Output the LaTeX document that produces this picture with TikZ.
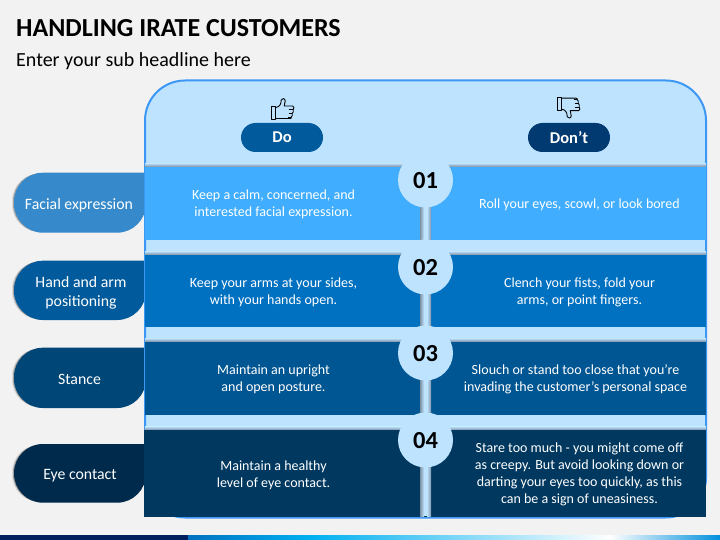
\documentclass[tikz,border=0pt]{standalone}
\usepackage{fontspec}
\setmainfont{Carlito}
\definecolor{pagebg}{HTML}{F2F2F2}
\definecolor{panelfill}{HTML}{BDE3FF}
\definecolor{panelline}{HTML}{3D97F5}
\definecolor{bandA}{HTML}{40ADFF}
\definecolor{bandB}{HTML}{0070C0}
\definecolor{bandC}{HTML}{005692}
\definecolor{bandD}{HTML}{00385F}
\definecolor{pillA}{HTML}{368ACB}
\definecolor{pillB}{HTML}{005A9B}
\definecolor{pillC}{HTML}{004676}
\definecolor{pillD}{HTML}{002A4C}
\definecolor{dontblue}{HTML}{003A70}
\definecolor{shadowgrey}{HTML}{7F92A5}
\definecolor{navy}{HTML}{001F5F}
\definecolor{stripcyan}{HTML}{00B0F0}
\definecolor{stripblue}{HTML}{0090DD}
\newcommand{\bandshape}[4]{%
  \shade[top color=panelfill,bottom color=shadowgrey] (145,#1-3.5) rectangle (706,#1);
  \fill[#3] (#4,#1) rectangle (706,#2);}
\newcommand{\pillshape}[3]{%
  \fill[black,opacity=.1] [rounded corners=27pt] (145,#1+1) -- (12,#1+1) -- (12,#2-1) -- (145,#2-1) [sharp corners] -- cycle;
  \fill[black,opacity=.25] [rounded corners=28pt] (145,#1+.5) -- (13,#1+.5) -- (13,#2-.5) -- (145,#2-.5) [sharp corners] -- cycle;
  \fill[#3] [rounded corners=29pt] (146,#1) -- (14,#1) -- (14,#2) -- (146,#2) [sharp corners] -- cycle;}
\newcommand{\barshape}[2]{%
  \fill[panelfill] ([xshift=-5.5pt]#1) rectangle ([xshift=5.5pt]#2);
  \shade[left color=shadowgrey,right color=panelfill] ([xshift=-5.5pt]#1) rectangle ([xshift=-1.5pt]#2);
  \shade[left color=panelfill,right color=shadowgrey] ([xshift=1.5pt]#1) rectangle ([xshift=5.5pt]#2);}
\tikzset{
  x=1pt,y=-1pt,
  bodytext/.style={text=white,font=\fontsize{14}{17}\selectfont,align=center,inner sep=0pt},
  sidetext/.style={text=white,font=\fontsize{15.8}{19}\selectfont,align=center,inner sep=0pt},
  numdisc/.style={circle,fill=panelfill,minimum size=55pt,inner sep=0pt},
  numtext/.style={inner sep=0pt,text=black,font=\bfseries\fontsize{24.5}{24}\selectfont},
  headpill/.style={rounded corners=14.5pt,minimum width=82pt,minimum height=29pt,inner sep=0pt,text=white,font=\bfseries\fontsize{16.5}{16}\selectfont},
  thumbline/.style={draw=black,line width=.9pt,line join=round,fill=none},
}
\begin{document}
\begin{tikzpicture}
\useasboundingbox (0,0) rectangle (720,540);
\fill[pagebg] (0,0) rectangle (720,540);
% titles
\node[anchor=base west,inner sep=0pt,font=\bfseries\fontsize{26}{26}\selectfont] (title) at (16,37) {HANDLING IRATE CUSTOMERS};
\node[anchor=base west,inner sep=0pt,font=\fontsize{20}{20}\selectfont] (subtitle) at (16,66.5) {Enter your sub headline here};
% side pills
\pillshape{172.7}{232.7}{pillA}
\pillshape{260.7}{320}{pillB}
\pillshape{347.7}{408}{pillC}
\pillshape{444}{502.7}{pillD}
% panel
\draw[panelline,fill=panelfill,line width=2pt,rounded corners=40pt] (145,80.5) rectangle (706,517.5);
% bands
\bandshape{166.7}{240}{bandA}{145}
\bandshape{254.7}{326.7}{bandB}{145}
\bandshape{341.7}{415}{bandC}{145}
\bandshape{430}{516.7}{bandD}{144}
% number centres and connecting bars
\coordinate (cA) at (425.5,180);
\coordinate (cB) at (425.5,267);
\coordinate (cC) at (425.5,353);
\coordinate (cD) at (425.5,440);
\coordinate (cEnd) at (425.5,516);
\barshape{cA}{cB}
\barshape{cB}{cC}
\barshape{cC}{cD}
\barshape{cD}{cEnd}
\node[numdisc] (nA) at (cA) {};
\node[numdisc] (nB) at (cB) {};
\node[numdisc] (nC) at (cC) {};
\node[numdisc] (nD) at (cD) {};
\node[numtext] (tA) at ([yshift=-.5pt]nA.center) {01};
\node[numtext] (tB) at ([yshift=-.5pt]nB.center) {02};
\node[numtext] (tC) at ([yshift=-.5pt]nC.center) {03};
\node[numtext] (tD) at ([yshift=-.5pt]nD.center) {04};
% head pills
\node[headpill,fill=pillB] (doPill) at (282,137.5) {Do};
\node[headpill,fill=dontblue] (dontPill) at (569,137.5) {Don’t};
% thumbs
\begin{scope}[shift={(271.7,119)}]
  \draw[thumbline] (0,-13) -- (4,-13) -- (4,0) -- (0,0) -- cycle;
  \draw[thumbline] (4,-11.5) .. controls (8,-12) and (9.5,-15) .. (9.5,-19) .. controls (10,-21) and (13.5,-21) .. (13.5,-18) -- (12.5,-13) -- (21,-13) .. controls (22.5,-13) and (22.5,-10) .. (21.5,-9.5) .. controls (22,-8) and (21.5,-6) .. (20.5,-5.5) .. controls (21,-4) and (20.5,-2.5) .. (19.5,-2) .. controls (20,-.5) and (19,-.5) .. (18,-.5) -- (4,-.5);
  \draw[thumbline,line width=.6pt] (17,-9.5) -- (21.5,-9.5) (17,-5.5) -- (20.5,-5.5) (16,-2) -- (19.5,-2);
\end{scope}
\begin{scope}[shift={(557.7,97.7)},yscale=-1]
  \draw[thumbline] (0,-13) -- (4,-13) -- (4,0) -- (0,0) -- cycle;
  \draw[thumbline] (4,-11.5) .. controls (8,-12) and (9.5,-15) .. (9.5,-19) .. controls (10,-21) and (13.5,-21) .. (13.5,-18) -- (12.5,-13) -- (21,-13) .. controls (22.5,-13) and (22.5,-10) .. (21.5,-9.5) .. controls (22,-8) and (21.5,-6) .. (20.5,-5.5) .. controls (21,-4) and (20.5,-2.5) .. (19.5,-2) .. controls (20,-.5) and (19,-.5) .. (18,-.5) -- (4,-.5);
  \draw[thumbline,line width=.6pt] (17,-9.5) -- (21.5,-9.5) (17,-5.5) -- (20.5,-5.5) (16,-2) -- (19.5,-2);
\end{scope}
% side labels
\node[sidetext] (sA) at (79,205) {Facial expression};
\node[sidetext] (sB) at (81,292.5) {Hand and arm\\positioning};
\node[sidetext] (sC) at (79.5,379.5) {Stance};
\node[sidetext] (sD) at (80,476) {Eye contact};
% Do column
\node[bodytext] (dA) at (273.5,204) {Keep a calm, concerned, and\\interested facial expression.};
\node[bodytext] (dB) at (273.5,292) {Keep your arms at your sides,\\with your hands open.};
\node[bodytext] (dC) at (273.5,379) {Maintain an upright\\and open posture.};
\node[bodytext] (dD) at (273.5,475) {Maintain a healthy\\level of eye contact.};
% Don't column
\node[bodytext] (xA) at (579.5,204.5) {Roll your eyes, scowl, or look bored};
\node[bodytext] (xB) at (579.5,292) {Clench your fists, fold your\\arms, or point fingers.};
\node[bodytext] (xC) at (575.5,379) {Slouch or stand too close that you’re\\invading the customer’s personal space};
\node[bodytext] (xD) at (579.5,474.5) {Stare too much - you might come off\\as creepy. But avoid looking down or\\darting your eyes too quickly, as this\\can be a sign of uneasiness.};
% bottom strip
\fill[navy] (0,535) rectangle (188,540);
\shade[left color=bandB,right color=stripcyan] (188,535) rectangle (310,540);
\shade[left color=stripcyan,right color=white] (310,535) rectangle (610,540);
\shade[left color=white,right color=stripblue] (610,535) rectangle (720,540);
\end{tikzpicture}
\end{document}
